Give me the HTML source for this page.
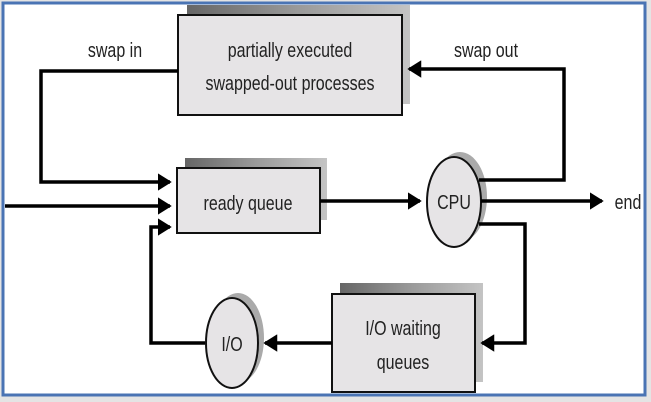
<!DOCTYPE html>
<html><head><style>
html,body{margin:0;padding:0;background:#e4e4e4;}
svg{display:block;}
text{font-family:"Liberation Sans",Arial,sans-serif;fill:#222;}
</style></head><body>
<svg width="651" height="402" viewBox="0 0 651 402" xmlns="http://www.w3.org/2000/svg">
<defs>
<linearGradient id="sh" x1="0" y1="0" x2="1" y2="0">
<stop offset="0" stop-color="#666"/><stop offset="0.5" stop-color="#9a9a9a"/><stop offset="1" stop-color="#c4c4c4"/>
</linearGradient>
<marker id="ar" markerWidth="4" markerHeight="5" refX="3.5" refY="2.5" orient="auto" markerUnits="strokeWidth">
<path d="M0,0 L4,2.5 L0,5 z" fill="#000"/>
</marker>
</defs>
<rect x="0" y="0" width="651" height="402" fill="#e4e4e4"/>
<rect x="3" y="3" width="642" height="392" fill="#fff" stroke="#4a74b4" stroke-width="3"/>

<rect x="187" y="5" width="223" height="99" fill="url(#sh)"/>
<rect x="185" y="158" width="142" height="62" fill="url(#sh)"/>
<rect x="340" y="283" width="143" height="99" fill="url(#sh)"/>
<ellipse cx="460" cy="197" rx="27" ry="45" fill="#aaa"/>
<ellipse cx="238" cy="338" rx="26" ry="45" fill="#aaa"/>

<rect x="178" y="15" width="224" height="100" fill="#e6e4e6" stroke="#111" stroke-width="2"/>
<rect x="177" y="168" width="143" height="65" fill="#e6e4e6" stroke="#111" stroke-width="2"/>
<rect x="332" y="294" width="143" height="98" fill="#e6e4e6" stroke="#111" stroke-width="2"/>
<ellipse cx="454" cy="202" rx="27" ry="45" fill="#e6e4e6" stroke="#111" stroke-width="2"/>
<ellipse cx="232" cy="343" rx="26" ry="45" fill="#e6e4e6" stroke="#111" stroke-width="2"/>

<g fill="none" stroke="#000" stroke-width="3.5">
<polyline points="178,71 41,71 41,182 170,182" marker-end="url(#ar)"/>
<line x1="5" y1="206" x2="170" y2="206" marker-end="url(#ar)"/>
<polyline points="205,343 151,343 151,227 170,227" marker-end="url(#ar)"/>
<line x1="320" y1="201" x2="420" y2="201" marker-end="url(#ar)"/>
<polyline points="479,180 564,180 564,69 409,69" marker-end="url(#ar)"/>
<line x1="481" y1="201" x2="602" y2="201" marker-end="url(#ar)"/>
<polyline points="479,224 525,224 525,343 482,343" marker-end="url(#ar)"/>
<line x1="332" y1="343" x2="265" y2="343" marker-end="url(#ar)"/>
</g>

<g font-size="20" text-anchor="middle">
<text x="115" y="57" transform="translate(115,0) scale(0.8,1) translate(-115,0)">swap in</text>
<text x="486" y="57" transform="translate(486,0) scale(0.8,1) translate(-486,0)">swap out</text>
<text x="290" y="57" transform="translate(290,0) scale(0.8,1) translate(-290,0)">partially executed</text>
<text x="290" y="90" transform="translate(290,0) scale(0.8,1) translate(-290,0)">swapped-out processes</text>
<text x="248" y="210" transform="translate(248,0) scale(0.8,1) translate(-248,0)">ready queue</text>
<text x="454" y="209" transform="translate(454,0) scale(0.8,1) translate(-454,0)">CPU</text>
<text x="628" y="209" transform="translate(628,0) scale(0.8,1) translate(-628,0)">end</text>
<text x="403" y="335" transform="translate(403,0) scale(0.8,1) translate(-403,0)">I/O waiting</text>
<text x="403" y="369" transform="translate(403,0) scale(0.8,1) translate(-403,0)">queues</text>
<text x="232" y="351" transform="translate(232,0) scale(0.8,1) translate(-232,0)">I/O</text>
</g>
</svg>
</body></html>
